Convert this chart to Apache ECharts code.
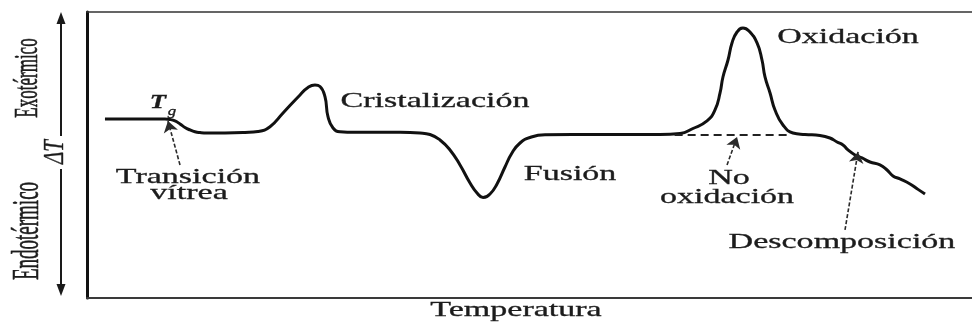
<!DOCTYPE html>
<html>
<head>
<meta charset="utf-8">
<script src="https://cdn.jsdelivr.net/npm/echarts@6/dist/echarts.min.js"></script>
<style>
  html, body { margin: 0; padding: 0; background: #fff; }
  #main { width: 972px; height: 326px; }
</style>
</head>
<body>
<div id="main"></div>
<script>
// DSC thermogram: temperature (arbitrary units) vs. heat-flow difference ΔT
const temperatura = [
  2.03, 4.86, 7.68, 8.81, 9.38, 9.94, 10.51, 11.07, 11.64, 12.20, 12.77, 13.56,
  15.59, 17.85, 19.32, 20.68, 22.15, 24.07, 24.97, 25.76, 26.33, 26.89, 27.23,
  27.80, 28.59, 30.28, 35.37, 37.63, 38.76, 39.89, 41.02, 42.15, 43.28, 44.07,
  44.75, 45.54, 46.33, 47.23, 48.02, 48.93, 50.06, 51.75, 57.97, 64.75, 67.01,
  68.47, 70.06, 70.96, 71.53, 71.86, 72.43, 72.88, 73.45, 74.12, 74.80, 75.71,
  76.27, 76.61, 77.18, 77.74, 78.64, 79.77, 81.13, 82.82, 83.95, 84.75, 85.42,
  85.99, 86.78, 87.57, 88.47, 89.60, 90.40, 91.07, 91.86, 93.00, 93.90, 94.69
];
const deltaT = [
  5.59, 5.59, 5.59, 5.59, 5.42, 4.90, 3.85, 2.62, 1.75, 1.12, 0.84, 0.70,
  0.70, 0.87, 1.22, 2.90, 7.69, 13.99, 16.61, 17.48, 16.96, 13.39, 6.40,
  2.45, 1.15, 0.94, 0.94, 0.70, 0.17, -1.75, -5.24, -10.49, -16.78, -20.28,
  -21.85, -20.63, -17.13, -11.19, -6.29, -2.80, -0.87, 0.07, 0.17, 0.17, 0.52,
  2.27, 4.90, 8.74, 14.69, 20.28, 26.22, 32.17, 36.01, 37.41, 36.36, 32.17,
  26.22, 20.28, 14.69, 8.74, 3.50, 0.70, 0.17, -0.17, -1.05, -2.45, -3.50,
  -5.24, -6.99, -8.04, -9.44, -10.49, -12.24, -14.34, -15.38, -17.13, -19.02, -20.63
];

// Baseline continued under the oxidation peak (no oxidation case)
const baseX = [66.4, 79.4];
const baseY = [0, 0];

// Pointer arrows: [fromX, fromY, toX, toY]
const flechaTg = [10.51, -10.49, 9.15, 4.90];
const flechaNoOx = [72.32, -10.49, 73.45, -0.70];
const flechaDesc = [85.65, -33.22, 87.12, -5.94];

// Annotation labels anchored in data coordinates
const etiquetaTexto = ['Cristalización', 'Fusión', 'Oxidación', 'No', 'oxidación',
                       'Descomposición', 'Transición', 'vítrea'];
const etiquetaX = [39.32, 54.58, 85.99, 72.54, 72.32, 85.31, 11.41, 11.53];
const etiquetaY = [11.54, -13.64, 33.92, -15.38, -21.68, -37.76, -14.69, -20.63];

const SERIF = '"Liberation Serif", "DejaVu Serif", serif';
const INK = '#1c1c1c';
const STRETCH = 1.62;

const chart = echarts.init(document.getElementById('main'));

function arrowLine(a) {
  return [{ coord: [a[0], a[1]] }, { coord: [a[2], a[3]] }];
}

function textStyle(txt, font) {
  return { text: txt, font: font, fill: INK, stroke: INK, lineWidth: 0.3,
           align: 'center', verticalAlign: 'middle' };
}

chart.setOption({
  animation: false,
  backgroundColor: '#fff',
  grid: { left: 87, right: 0, top: 12, bottom: 28 },
  xAxis: [
    {
      type: 'value', min: 0, max: 100, position: 'bottom',
      axisLine: { show: true, onZero: false, lineStyle: { color: '#3a3a3a', width: 2 } },
      axisTick: { show: false }, axisLabel: { show: false }, splitLine: { show: false }
    },
    {
      type: 'value', min: 0, max: 100, position: 'top',
      axisLine: { show: true, onZero: false, lineStyle: { color: '#333', width: 1.6 } },
      axisTick: { show: false }, axisLabel: { show: false }, splitLine: { show: false }
    }
  ],
  yAxis: {
    type: 'value', min: -57, max: 43,
    axisLine: { show: true, onZero: false, lineStyle: { color: '#111', width: 3 } },
    axisTick: { show: false }, axisLabel: { show: false }, splitLine: { show: false }
  },
  series: [
    {
      type: 'line',
      data: temperatura.map((t, i) => [t, deltaT[i]]),
      smooth: 0.5,
      symbol: 'none',
      lineStyle: { color: '#111', width: 3 },
      silent: true
    },
    {
      type: 'line',
      data: baseX.map((t, i) => [t, baseY[i]]),
      symbol: 'none',
      lineStyle: { color: '#222', width: 2, type: [8, 5] },
      silent: true
    },
    {
      type: 'line',
      data: [],
      silent: true,
      markLine: {
        silent: true,
        symbol: ['none', 'arrow'],
        symbolSize: 11,
        label: { show: false },
        lineStyle: { color: '#2a2a2a', width: 1.6, type: [4, 2] },
        emphasis: { disabled: true },
        data: [arrowLine(flechaTg), arrowLine(flechaNoOx), arrowLine(flechaDesc)]
      }
    }
  ]
});

// Text annotations, drawn horizontally stretched like the printed figure
const graphics = etiquetaTexto.map((txt, i) => {
  const p = chart.convertToPixel({ xAxisIndex: 0, yAxisIndex: 0 }, [etiquetaX[i], etiquetaY[i]]);
  return { type: 'text', x: p[0], y: p[1], scaleX: STRETCH, silent: true,
           style: textStyle(txt, '21px ' + SERIF) };
});

// Glass transition symbol T_g
const pT = chart.convertToPixel({ xAxisIndex: 0, yAxisIndex: 0 }, [8.02, 11.19]);
const pG = chart.convertToPixel({ xAxisIndex: 0, yAxisIndex: 0 }, [9.60, 8.04]);
graphics.push(
  { type: 'text', x: pT[0], y: pT[1], scaleX: 1.4, silent: true,
    style: textStyle('T', 'italic bold 19px ' + SERIF) },
  { type: 'text', x: pG[0], y: pG[1], scaleX: 1.4, silent: true,
    style: textStyle('g', 'italic 12px ' + SERIF) }
);

// Horizontal axis title
graphics.push({ type: 'text', x: 516, y: 310, scaleX: STRETCH, silent: true,
                style: textStyle('Temperatura', '21px ' + SERIF) });

// Vertical axis: double arrow interrupted by ΔT, with Exo/Endo labels
graphics.push(
  { type: 'line', silent: true, shape: { x1: 61, y1: 20, x2: 61, y2: 136 }, style: { stroke: '#1a1a1a', lineWidth: 2 } },
  { type: 'line', silent: true, shape: { x1: 61, y1: 169, x2: 61, y2: 288 }, style: { stroke: '#1a1a1a', lineWidth: 2 } },
  { type: 'polygon', silent: true, shape: { points: [[61, 12], [56.5, 24], [65.5, 24]] }, style: { fill: '#1a1a1a' } },
  { type: 'polygon', silent: true, shape: { points: [[61, 296], [56.5, 284], [65.5, 284]] }, style: { fill: '#1a1a1a' } },
  { type: 'text', x: 55, y: 152, rotation: Math.PI / 2, scaleY: 1.4, silent: true,
    style: textStyle('ΔT', 'italic 21px ' + SERIF) },
  { type: 'text', x: 28, y: 78, rotation: Math.PI / 2, scaleY: 2.0, silent: true,
    style: textStyle('Exotérmico', '17px ' + SERIF) },
  { type: 'text', x: 28, y: 231, rotation: Math.PI / 2, scaleY: 2.0, silent: true,
    style: textStyle('Endotérmico', '19px ' + SERIF) }
);

chart.setOption({ graphic: graphics });
</script>
</body>
</html>
